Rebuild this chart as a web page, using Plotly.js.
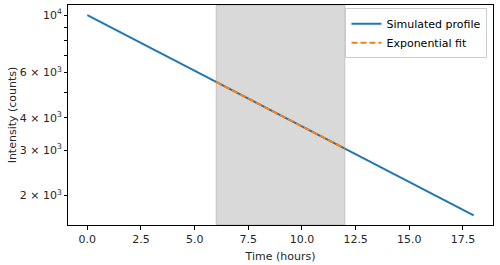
<!DOCTYPE html>
<html>
<head>
<meta charset="utf-8">
<script src="https://cdn.plot.ly/plotly-3.0.1.min.js"></script>
<style>html,body{margin:0;padding:0;background:#fff;}#chart{width:500px;height:265px;}</style>
</head>
<body>
<div id="chart"></div>
<script>
// Simulated profile
const timeHours = [0, 3, 6, 9, 12, 15, 18];
const intensity = [10000, 7420, 5510, 4090, 3040, 2255, 1675];
// Exponential fit over the shaded window
const fitTime = [6, 9, 12];
const fitIntensity = [5510, 4090, 3040];
// Shaded window
const windowStart = 6;
const windowEnd = 12;
// Tick labels
const yTickVals = [2000, 3000, 4000, 6000, 10000];
const yTickText = ['2 \u00d7 10<sup>3</sup>', '3 \u00d7 10<sup>3</sup>', '4 \u00d7 10<sup>3</sup>', '6 \u00d7 10<sup>3</sup>', '10<sup>4</sup>'];
const yMinorVals = [5000, 7000, 8000, 9000];
const xTickVals = [0, 2.5, 5, 7.5, 10, 12.5, 15, 17.5];
const xTickText = ['0.0', '2.5', '5.0', '7.5', '10.0', '12.5', '15.0', '17.5'];

const font = {family: 'DejaVu Sans, sans-serif', size: 11, color: '#262626'};

const traces = [
  {x: timeHours, y: intensity, type: 'scatter', mode: 'lines', name: 'Simulated profile',
   line: {color: '#1f77b4', width: 2}},
  {x: fitTime, y: fitIntensity, type: 'scatter', mode: 'lines', name: 'Exponential fit',
   line: {color: '#ff7f0e', width: 2, dash: '6px,3px'}}
];

const layout = {
  width: 500, height: 265,
  margin: {l: 68, r: 7, t: 5, b: 40},
  paper_bgcolor: '#fff', plot_bgcolor: '#fff',
  font: font,
  showlegend: true,
  legend: {x: 0.987, y: 0.985, xanchor: 'right', yanchor: 'top',
    bordercolor: '#cccccc', borderwidth: 1, bgcolor: 'rgba(255,255,255,0.8)',
    font: {family: 'DejaVu Sans, sans-serif', size: 11, color: '#000'}, itemwidth: 30,
    tracegroupgap: 0},
  xaxis: {
    range: [-0.9, 18.9], tickmode: 'array', tickvals: xTickVals, ticktext: xTickText,
    ticks: 'outside', ticklen: 4, tickcolor: '#000', tickwidth: 1,
    showline: true, mirror: true, linecolor: '#000', linewidth: 1,
    showgrid: false, zeroline: false,
    title: {text: 'Time (hours)', font: font, standoff: 7}
  },
  yaxis: {
    type: 'log', range: [3.1865, 4.0396], tickmode: 'array', tickvals: yTickVals, ticktext: yTickText,
    ticks: 'outside', ticklen: 3, tickcolor: '#000', tickwidth: 1,
    minor: {tickmode: 'array', tickvals: yMinorVals, ticks: 'outside', ticklen: 3, tickcolor: '#000', showgrid: false},
    showline: true, mirror: true, linecolor: '#000', linewidth: 1,
    showgrid: false, zeroline: false,
    title: {text: 'Intensity (counts)', font: font, standoff: 0}
  },
  shapes: [{type: 'rect', xref: 'x', yref: 'paper', x0: windowStart, x1: windowEnd, y0: 0, y1: 1,
    fillcolor: 'rgba(128,128,128,0.3)', line: {color: 'rgba(128,128,128,0.3)', width: 1}, layer: 'below'}]
};

Plotly.newPlot('chart', traces, layout, {displayModeBar: false, staticPlot: true});
</script>
</body>
</html>
